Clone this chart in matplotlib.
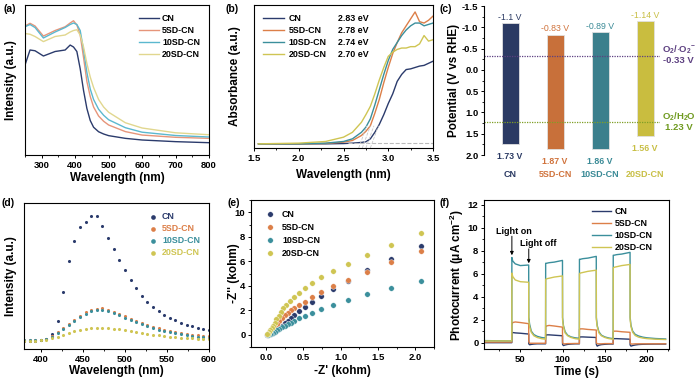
import matplotlib
matplotlib.use('agg')
import matplotlib.pyplot as plt
import numpy as np
from matplotlib.lines import Line2D
from matplotlib.ticker import MultipleLocator

plt.rcParams['font.family'] = ['Liberation Sans', 'DejaVu Sans']
plt.rcParams['font.weight'] = 'bold'
plt.rcParams['axes.labelweight'] = 'bold'
plt.rcParams['mathtext.fontset'] = 'custom'
plt.rcParams['mathtext.rm'] = 'Liberation Sans:bold'
plt.rcParams['mathtext.bf'] = 'Liberation Sans:bold'
plt.rcParams['mathtext.it'] = 'Liberation Sans:bold'
plt.rcParams['mathtext.default'] = 'bf'

names = ['CN', '5SD-CN', '10SD-CN', '20SD-CN']
col = ['#2b3b6c', '#dc7f48', '#3b8f9c', '#cfc553']
col_a = ['#2b3b6c', '#e6957a', '#5bb8cf', '#e1d78f']

# (a) UV-vis DRS
wl_a = [250, 265, 280, 305, 340, 370, 385, 395, 405, 415, 425, 435, 445, 455, 470, 485, 500, 550, 600, 700, 800]
drs_cn = [0.60, 0.70, 0.695, 0.66, 0.69, 0.70, 0.733, 0.72, 0.69, 0.575, 0.43, 0.31, 0.23, 0.185, 0.155, 0.14, 0.129, 0.111, 0.100, 0.089, 0.082]
drs_5 = [0.86, 0.878, 0.86, 0.793, 0.83, 0.855, 0.88, 0.895, 0.867, 0.80, 0.65, 0.49, 0.39, 0.32, 0.26, 0.225, 0.20, 0.156, 0.133, 0.118, 0.111]
drs_10 = [0.855, 0.87, 0.85, 0.78, 0.82, 0.85, 0.87, 0.88, 0.87, 0.83, 0.70, 0.55, 0.44, 0.37, 0.305, 0.265, 0.235, 0.182, 0.152, 0.13, 0.12]
drs_20 = [0.81, 0.805, 0.79, 0.756, 0.79, 0.80, 0.82, 0.83, 0.835, 0.80, 0.72, 0.61, 0.52, 0.45, 0.37, 0.32, 0.285, 0.215, 0.18, 0.148, 0.135]

# (b) Tauc
ev_b = [1.55, 2.0, 2.3, 2.5, 2.6, 2.7, 2.75, 2.8, 2.85, 2.9, 2.95, 3.0, 3.05, 3.1, 3.15, 3.2, 3.25, 3.3, 3.35, 3.4, 3.45, 3.5]
abs_cn = [0, 0, 0, 0.002, 0.005, 0.01, 0.015, 0.036, 0.083, 0.14, 0.21, 0.29, 0.36, 0.45, 0.50, 0.535, 0.54, 0.55, 0.56, 0.565, 0.58, 0.595]
abs_5 = [0, 0, 0.003, 0.012, 0.024, 0.06, 0.09, 0.13, 0.22, 0.32, 0.44, 0.55, 0.65, 0.73, 0.80, 0.85, 0.90, 0.95, 0.88, 0.87, 0.89, 0.92]
abs_10 = [0, 0, 0.005, 0.017, 0.036, 0.083, 0.12, 0.18, 0.28, 0.39, 0.50, 0.60, 0.68, 0.73, 0.78, 0.82, 0.85, 0.87, 0.87, 0.85, 0.86, 0.87]
abs_20 = [0, 0.005, 0.017, 0.048, 0.083, 0.155, 0.21, 0.27, 0.36, 0.46, 0.55, 0.63, 0.66, 0.68, 0.69, 0.69, 0.70, 0.70, 0.72, 0.78, 0.74, 0.75]
gaps = [2.83, 2.78, 2.74, 2.70]

# (c) band positions
cb = [-1.1, -0.83, -0.89, -1.14]
vb = [1.73, 1.87, 1.86, 1.56]

# (d) PL
wl_d = np.linspace(380, 600, 34)
pl_cn = [25, 25, 25, 26, 30, 45, 85, 170, 265, 325, 365, 382, 398, 398, 368, 333, 300, 266, 236, 208, 183, 160,
         142, 127, 114, 103, 94, 86, 79, 73, 68, 63, 59, 56]
pl_5 = [27, 27, 27, 28, 31, 38, 50, 62, 75, 88, 100, 110, 117, 121, 122, 118, 112, 105, 98, 91, 84, 78,
        72, 67, 62, 58, 54, 51, 48, 45, 43, 41, 39, 38]
pl_10 = [27, 27, 27, 28, 30, 36, 47, 59, 72, 85, 96, 106, 113, 117, 118, 114, 108, 101, 94, 87, 80, 74,
         68, 63, 58, 54, 50, 47, 44, 41, 39, 37, 35, 34]
pl_20 = [25, 25, 25, 26, 28, 32, 37, 43, 49, 54, 58, 61, 63, 64, 64, 63, 61, 59, 56, 53, 50, 48,
         45, 43, 41, 39, 37, 36, 34, 33, 32, 31, 30, 30]

# (e) EIS
zr_cn = [2.08, 1.68, 1.35, 1.10, 0.90, 0.74, 0.62, 0.52, 0.44, 0.38, 0.33, 0.29, 0.25, 0.21, 0.18, 0.15, 0.12, 0.09, 0.06, 0.04, 0.02]
zi_cn = [7.25, 6.15, 5.25, 4.4, 3.7, 3.15, 2.65, 2.25, 1.9, 1.6, 1.35, 1.15, 0.95, 0.75, 0.58, 0.42, 0.28, 0.17, 0.08, 0.03, 0.0]
zr_5 = [2.08, 1.68, 1.35, 1.10, 0.90, 0.74, 0.62, 0.52, 0.44, 0.38, 0.33, 0.29, 0.25, 0.21, 0.18, 0.15, 0.12, 0.10, 0.07, 0.05, 0.03]
zi_5 = [6.85, 5.95, 5.15, 4.5, 3.95, 3.45, 3.05, 2.7, 2.45, 2.2, 2.0, 1.8, 1.6, 1.35, 1.1, 0.85, 0.6, 0.4, 0.2, 0.08, 0.02]
zr_10 = [2.08, 1.68, 1.35, 1.10, 0.90, 0.74, 0.62, 0.52, 0.44, 0.38, 0.33, 0.29, 0.25, 0.21, 0.18, 0.15, 0.12, 0.09, 0.07, 0.05, 0.03]
zi_10 = [4.35, 3.8, 3.3, 2.85, 2.45, 2.1, 1.8, 1.55, 1.35, 1.15, 1.0, 0.85, 0.72, 0.6, 0.48, 0.36, 0.25, 0.15, 0.08, 0.03, 0.0]
zr_20 = [2.08, 1.68, 1.35, 1.10, 0.90, 0.74, 0.62, 0.52, 0.44, 0.37, 0.32, 0.27, 0.23, 0.20, 0.17, 0.14, 0.12, 0.10, 0.08, 0.06, 0.04, 0.03, 0.02]
zi_20 = [8.3, 7.35, 6.5, 5.8, 5.2, 4.7, 4.25, 3.8, 3.4, 3.05, 2.75, 2.45, 2.15, 1.85, 1.55, 1.25, 1.0, 0.75, 0.55, 0.35, 0.2, 0.1, 0.03]

# (f) photocurrent
t_pc = [7, 39.9,
        40, 41, 44, 50, 59.9, 60, 61, 63, 66, 70, 75, 79.9,
        80, 81, 84, 90, 99.9, 100, 101, 103, 106, 110, 115, 119.9,
        120, 121, 124, 130, 139.9, 140, 141, 143, 146, 150, 155, 159.9,
        160, 161, 164, 170, 179.9, 180, 181, 183, 186, 190, 195, 200, 210, 222]
pc_cn = [0.0, 0.0,
         0.8, 0.88, 0.85, 0.82, 0.75, -0.1, -0.18, -0.15, -0.12, -0.1, -0.1, -0.1,
         0.6, 0.68, 0.68, 0.65, 0.6, -0.15, -0.25, -0.2, -0.15, -0.12, -0.1, -0.1,
         0.45, 0.5, 0.5, 0.48, 0.45, -0.15, -0.3, -0.22, -0.17, -0.14, -0.12, -0.12,
         0.3, 0.35, 0.35, 0.33, 0.3, -0.2, -0.3, -0.25, -0.2, -0.16, -0.14, -0.13, -0.12, -0.12]
pc_5 = [0.05, 0.05,
        1.55, 1.75, 1.8, 1.75, 1.65, 0.1, -0.05, -0.05, -0.05, -0.05, -0.05, -0.05,
        1.4, 1.45, 1.5, 1.45, 1.35, 0.0, -0.1, -0.1, -0.08, -0.08, -0.07, -0.07,
        1.15, 1.2, 1.2, 1.15, 1.1, 0.0, -0.1, -0.1, -0.1, -0.08, -0.08, -0.08,
        0.95, 1.0, 1.0, 0.95, 0.9, 0.0, -0.12, -0.12, -0.1, -0.1, -0.1, -0.1, -0.1, -0.1]
pc_10 = [0.18, 0.15,
         7.4, 7.1, 6.85, 6.7, 6.75, 2.2, 1.6, 1.0, 0.7, 0.55, 0.45, 0.4,
         6.9, 6.9, 6.95, 7.0, 7.15, 2.2, 1.5, 0.95, 0.65, 0.5, 0.42, 0.38,
         7.25, 7.25, 7.3, 7.35, 7.5, 2.2, 1.5, 0.95, 0.65, 0.5, 0.4, 0.35,
         7.6, 7.6, 7.65, 7.7, 7.85, 2.2, 1.5, 1.0, 0.72, 0.58, 0.48, 0.42, 0.36, 0.32]
pc_20 = [0.15, 0.15,
         6.05, 5.75, 5.45, 5.3, 5.25, 2.0, 1.4, 0.9, 0.6, 0.45, 0.35, 0.3,
         5.5, 5.55, 5.6, 5.7, 5.8, 2.0, 1.4, 0.85, 0.6, 0.45, 0.35, 0.3,
         6.0, 6.05, 6.1, 6.2, 6.3, 2.0, 1.4, 0.85, 0.6, 0.45, 0.35, 0.3,
         6.5, 6.55, 6.6, 6.7, 6.8, 2.0, 1.4, 0.9, 0.62, 0.48, 0.4, 0.35, 0.3, 0.27]

W, H = 700, 382
fig = plt.figure(figsize=(7, 3.82), dpi=100)

TICK = 6.8
LAB = 8.5
LEG = 6.4


def px_axes(l, t, r, b):
    return fig.add_axes([l / W, 1 - b / H, (r - l) / W, (b - t) / H])


def style(ax, xl, yl, xlc, ylc):
    ax.tick_params(direction='out', length=2.5, width=0.7, labelsize=TICK, pad=1.5)
    ax.tick_params(which='minor', direction='out', length=1.5, width=0.6)
    for s in ax.spines.values():
        s.set_linewidth(0.8)
    ax.set_xlabel(xl, fontsize=LAB)
    ax.set_ylabel(yl, fontsize=LAB)
    ax.xaxis.set_label_coords(0.5, xlc)
    ax.yaxis.set_label_coords(ylc, 0.5)


def plabel(x, y, s):
    fig.text(x / W, 1 - y / H, s, fontsize=7.5, fontweight='bold', va='center', ha='left')


# ---- (a)
ax = px_axes(25, 5, 209, 155)
for y, c, n in zip([drs_cn, drs_5, drs_10, drs_20], col_a, names):
    ax.plot(wl_a, y, color=c, lw=1.0, label=n)
ax.set_xlim(250, 800)
ax.set_ylim(0, 1)
ax.set_yticks([])
ax.xaxis.set_major_locator(MultipleLocator(100))
ax.xaxis.set_minor_locator(MultipleLocator(50))
style(ax, 'Wavelength (nm)', 'Intensity (a.u.)', -0.11, -0.045)
ax.legend(loc='upper right', fontsize=LEG, frameon=False, handlelength=2.2, handletextpad=0.4,
          labelspacing=0.35, borderaxespad=0.6)

# ---- (b)
ax = px_axes(254, 5, 433, 148)
bl = []
for y, c, n in zip([abs_cn, abs_5, abs_10, abs_20], col, names):
    bl.append(ax.plot(ev_b, y, color=c, lw=1.0)[0])
ax.plot([2.55, 3.5], [0.003, 0.003], color='#bbbbbb', lw=0.8, ls='--')
for g in gaps:
    ax.plot([g - 0.03, g + 0.06], [-0.03, 0.13], color='#c8c8c8', lw=0.6, ls='--')
ax.set_xlim(1.5, 3.5)
ax.set_ylim(-0.03, 1.0)
ax.set_yticks([])
ax.xaxis.set_major_locator(MultipleLocator(0.5))
ax.xaxis.set_minor_locator(MultipleLocator(0.25))
ax.xaxis.set_major_formatter(matplotlib.ticker.FormatStrFormatter('%.1f'))
style(ax, 'Wavelength (nm)', 'Absorbance (a.u.)', -0.15, -0.07)
dummy = [Line2D([], [], color='none') for _ in gaps]
ax.legend(bl + dummy, names + ['%.2f eV' % g for g in gaps], ncol=2, loc='upper left', fontsize=LEG,
          frameon=False, handlelength=2.4, handletextpad=0.5, labelspacing=0.35,
          columnspacing=-1.6, borderaxespad=0.6)

# ---- (c)
ax = px_axes(484, 6, 660, 155)
xb = np.arange(4)
bar_c = ['#2b3a63', '#c8703a', '#3b7f8c', '#c9bd3f']
txt_c = ['#2b3a63', '#d0733c', '#3a8a96', '#c8bf45']
ax.bar(xb, np.array(vb) - np.array(cb), bottom=cb, width=0.38, color=bar_c, edgecolor='#e0e0e0', linewidth=0.6)
ax.set_ylim(2.0, -1.5)
ax.set_xlim(-0.58, 3.33)
ax.axhline(-0.33, color='#5c3f80', lw=0.9, ls=(0, (1, 1)))
ax.axhline(1.23, color='#7f9f25', lw=0.9, ls=(0, (1, 1)))
for i in range(4):
    ax.annotate('%g V' % cb[i], (xb[i], cb[i]), xytext=(0, 1), textcoords='offset points',
                ha='center', va='bottom', fontsize=6.3, color=txt_c[i], fontweight='normal')
    ax.annotate('%.2f V' % vb[i], (xb[i], vb[i]), xytext=(0, -9), textcoords='offset points',
                ha='center', va='center', fontsize=6.3, color=txt_c[i])
ax.set_xticks(xb)
ax.set_xticklabels(names)
for tl, c in zip(ax.get_xticklabels(), txt_c):
    tl.set_color(c)
for s in ['top', 'right', 'bottom']:
    ax.spines[s].set_visible(False)
ax.yaxis.set_major_locator(MultipleLocator(0.5))
ax.yaxis.set_minor_locator(MultipleLocator(0.25))
ax.yaxis.set_major_formatter(matplotlib.ticker.FormatStrFormatter('%.1f'))
style(ax, '', 'Potential (V vs RHE)', 0, -0.135)
ax.tick_params(axis='x', length=0, pad=11, labelsize=6.5)
ax.text(1.105, -0.36, 'O$_2$/$\\cdot$O$_2$$^{-}$\n-0.33 V', transform=ax.get_yaxis_transform(),
        color='#5c3f80', fontsize=6.8, ha='center', va='center', linespacing=1.05)
ax.text(1.105, 1.2, 'O$_2$/H$_2$O\n1.23 V', transform=ax.get_yaxis_transform(),
        color='#6f9a1f', fontsize=6.8, ha='center', va='center', linespacing=1.05)

# ---- (d)
ax = px_axes(24, 203, 209, 349)
for y, c, n in zip([pl_cn, pl_5, pl_10, pl_20], col, names):
    ax.scatter(wl_d, y, s=5, color=c, label=n, linewidths=0)
ax.set_xlim(380, 600)
ax.set_ylim(0, 438)
ax.set_yticks([])
ax.xaxis.set_major_locator(MultipleLocator(50))
ax.xaxis.set_minor_locator(MultipleLocator(25))
style(ax, 'Wavelength (nm)', 'Intensity (a.u.)', -0.11, -0.038)
leg = ax.legend(loc='upper right', fontsize=LEG, frameon=False, handlelength=1.0, handletextpad=0.5,
                labelspacing=0.35, borderaxespad=0.6, markerscale=1.5)
for t, c in zip(leg.get_texts(), col):
    t.set_color(c)

# ---- (e)
ax = px_axes(251, 200, 434, 347)
for zr, zi, c, n in zip([zr_cn, zr_5, zr_10, zr_20], [zi_cn, zi_5, zi_10, zi_20], col, names):
    ax.scatter(zr, zi, s=16, color=c, label=n, edgecolors='white', linewidths=0.3)
ax.set_xlim(-0.2, 2.25)
ax.set_ylim(-1, 11)
ax.xaxis.set_major_locator(MultipleLocator(0.5))
ax.xaxis.set_minor_locator(MultipleLocator(0.25))
ax.yaxis.set_major_locator(MultipleLocator(2))
ax.yaxis.set_minor_locator(MultipleLocator(1))
ax.xaxis.set_major_formatter(matplotlib.ticker.FormatStrFormatter('%.1f'))
style(ax, "-Z' (kohm)", "-Z'' (kohm)", -0.12, -0.06)
ax.legend(loc='upper left', fontsize=LEG, frameon=False, handletextpad=0.4,
          labelspacing=0.45, borderaxespad=0.7)

# ---- (f)
ax = px_axes(484, 200, 669, 349)
for y, c, n in zip([pc_cn, pc_5, pc_10, pc_20], col, names):
    ax.plot(t_pc, y, color=c, lw=1.0, label=n)
ax.set_xlim(7, 226)
ax.set_ylim(-0.55, 12.4)
ax.xaxis.set_major_locator(MultipleLocator(50))
ax.xaxis.set_minor_locator(MultipleLocator(25))
ax.yaxis.set_major_locator(MultipleLocator(2))
ax.yaxis.set_minor_locator(MultipleLocator(1))
style(ax, 'Time (s)', 'Photocurrent ($\\mu$A cm$^{-2}$)', -0.115, -0.1)
ax.legend(loc='upper right', fontsize=LEG, frameon=False, handlelength=2.2, handletextpad=0.4,
          labelspacing=0.35, borderaxespad=0.4, bbox_to_anchor=(0.95, 1.0))
ax.text(42, 9.7, 'Light on', fontsize=6.5, ha='center', va='center')
ax.annotate('', xy=(40, 7.6), xytext=(40, 9.25),
            arrowprops=dict(arrowstyle='-|>', color='black', lw=0.7, mutation_scale=5, shrinkA=0, shrinkB=0))
ax.text(71, 8.6, 'Light off', fontsize=6.5, ha='center', va='center')
ax.annotate('', xy=(60, 6.9), xytext=(60, 8.15),
            arrowprops=dict(arrowstyle='-|>', color='black', lw=0.7, mutation_scale=5, shrinkA=0, shrinkB=0))

plabel(3, 9, '(a)')
plabel(226, 9, '(b)')
plabel(440, 9, '(c)')
plabel(2, 203, '(d)')
plabel(228, 203, '(e)')
plabel(440, 203, '(f)')

fig.savefig('out.png', dpi=100)
